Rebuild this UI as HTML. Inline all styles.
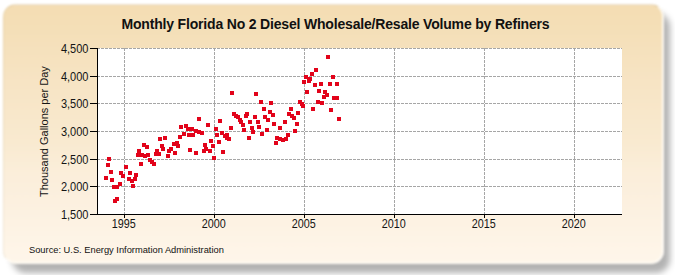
<!DOCTYPE html>
<html><head><meta charset="utf-8"><style>
html,body{margin:0;padding:0;width:675px;height:275px;overflow:hidden;background:#fff;}
#sh{position:absolute;left:12px;top:13px;width:658px;height:260px;border-radius:14px;background:rgba(0,0,0,0.30);filter:blur(3px);}
#bg{position:absolute;left:3px;top:4px;width:661px;height:260px;border-radius:13px;box-sizing:border-box;border:2px solid rgba(255,253,249,0.9);border-left:1px solid rgba(140,125,90,0.12);border-top:1px solid rgba(140,125,90,0.18);
background:linear-gradient(to bottom,#F4DDB3 0%,#F4DEB5 5%,#F7E4C4 30%,#F9EAD0 53%,#FBEEDA 65%,#FCF0DF 76%,#FEF5E8 95%,#FEF6EA 100%);
filter:blur(1.1px);}
svg{position:absolute;left:0;top:0;}
.g{stroke:#a6a6a6;stroke-width:1;stroke-dasharray:3 1;shape-rendering:crispEdges;}
.a{stroke:#000;stroke-width:1;shape-rendering:crispEdges;}
.p{fill:#E2031A;shape-rendering:crispEdges;}
text{font-family:"Liberation Sans",sans-serif;fill:#141414;}
.yl{font-size:12px;text-anchor:end;}
.xl{font-size:12px;text-anchor:middle;}
.t{font-size:14px;letter-spacing:-0.18px;font-weight:bold;text-anchor:middle;fill:#111;}
.yt{font-size:11px;text-anchor:middle;}
.src{font-size:9.3px;fill:#111;}
</style></head><body>
<div id="sh"></div><div id="bg"></div>
<svg width="675" height="275" viewBox="0 0 675 275">

<text x="335.5" y="29" class="t">Monthly Florida No 2 Diesel Wholesale/Resale Volume by Refiners</text>
<text transform="translate(48,131.6) rotate(-90)" class="yt">Thousand Gallons per Day</text>
<text x="29" y="253" class="src">Source: U.S. Energy Information Administration</text>
<rect x="97" y="48" width="525" height="166" fill="#FFFFFF"/>
<line x1="97" y1="48.5" x2="622" y2="48.5" class="g"/>
<line x1="97" y1="76.5" x2="622" y2="76.5" class="g"/>
<line x1="97" y1="103.5" x2="622" y2="103.5" class="g"/>
<line x1="97" y1="131.5" x2="622" y2="131.5" class="g"/>
<line x1="97" y1="159.5" x2="622" y2="159.5" class="g"/>
<line x1="97" y1="186.5" x2="622" y2="186.5" class="g"/>
<line x1="124.5" y1="48" x2="124.5" y2="214" class="g"/>
<line x1="214.5" y1="48" x2="214.5" y2="214" class="g"/>
<line x1="304.5" y1="48" x2="304.5" y2="214" class="g"/>
<line x1="394.5" y1="48" x2="394.5" y2="214" class="g"/>
<line x1="484.5" y1="48" x2="484.5" y2="214" class="g"/>
<line x1="574.5" y1="48" x2="574.5" y2="214" class="g"/>
<rect x="104" y="176" width="4" height="4" class="p"/>
<rect x="110" y="178" width="4" height="4" class="p"/>
<rect x="112" y="185" width="4" height="4" class="p"/>
<rect x="115" y="185" width="4" height="4" class="p"/>
<rect x="118" y="182" width="4" height="4" class="p"/>
<rect x="113" y="199" width="4" height="4" class="p"/>
<rect x="115" y="197" width="4" height="4" class="p"/>
<rect x="109" y="170" width="4" height="4" class="p"/>
<rect x="119" y="171" width="4" height="4" class="p"/>
<rect x="121" y="174" width="4" height="4" class="p"/>
<rect x="124" y="165" width="4" height="4" class="p"/>
<rect x="128" y="171" width="4" height="4" class="p"/>
<rect x="127" y="177" width="4" height="4" class="p"/>
<rect x="130" y="179" width="4" height="4" class="p"/>
<rect x="133" y="177" width="4" height="4" class="p"/>
<rect x="134" y="173" width="4" height="4" class="p"/>
<rect x="131" y="184" width="4" height="4" class="p"/>
<rect x="107" y="157" width="4" height="4" class="p"/>
<rect x="106" y="163" width="4" height="4" class="p"/>
<rect x="139" y="162" width="4" height="4" class="p"/>
<rect x="137" y="149" width="4" height="4" class="p"/>
<rect x="136" y="153" width="4" height="4" class="p"/>
<rect x="140" y="153" width="4" height="4" class="p"/>
<rect x="143" y="154" width="4" height="4" class="p"/>
<rect x="146" y="153" width="4" height="4" class="p"/>
<rect x="142" y="143" width="4" height="4" class="p"/>
<rect x="145" y="145" width="4" height="4" class="p"/>
<rect x="148" y="158" width="4" height="4" class="p"/>
<rect x="150" y="160" width="4" height="4" class="p"/>
<rect x="152" y="162" width="4" height="4" class="p"/>
<rect x="155" y="149" width="4" height="4" class="p"/>
<rect x="154" y="152" width="4" height="4" class="p"/>
<rect x="157" y="152" width="4" height="4" class="p"/>
<rect x="160" y="144" width="4" height="4" class="p"/>
<rect x="161" y="147" width="4" height="4" class="p"/>
<rect x="166" y="154" width="4" height="4" class="p"/>
<rect x="167" y="149" width="4" height="4" class="p"/>
<rect x="169" y="147" width="4" height="4" class="p"/>
<rect x="173" y="151" width="4" height="4" class="p"/>
<rect x="172" y="142" width="4" height="4" class="p"/>
<rect x="175" y="141" width="4" height="4" class="p"/>
<rect x="176" y="144" width="4" height="4" class="p"/>
<rect x="178" y="135" width="4" height="4" class="p"/>
<rect x="182" y="132" width="4" height="4" class="p"/>
<rect x="187" y="133" width="4" height="4" class="p"/>
<rect x="191" y="133" width="4" height="4" class="p"/>
<rect x="188" y="148" width="4" height="4" class="p"/>
<rect x="194" y="151" width="4" height="4" class="p"/>
<rect x="158" y="137" width="4" height="4" class="p"/>
<rect x="163" y="136" width="4" height="4" class="p"/>
<rect x="179" y="125" width="4" height="4" class="p"/>
<rect x="184" y="124" width="4" height="4" class="p"/>
<rect x="186" y="127" width="4" height="4" class="p"/>
<rect x="190" y="127" width="4" height="4" class="p"/>
<rect x="194" y="129" width="4" height="4" class="p"/>
<rect x="197" y="130" width="4" height="4" class="p"/>
<rect x="200" y="131" width="4" height="4" class="p"/>
<rect x="197" y="117" width="4" height="4" class="p"/>
<rect x="206" y="123" width="4" height="4" class="p"/>
<rect x="202" y="149" width="4" height="4" class="p"/>
<rect x="204" y="147" width="4" height="4" class="p"/>
<rect x="208" y="149" width="4" height="4" class="p"/>
<rect x="203" y="143" width="4" height="4" class="p"/>
<rect x="211" y="144" width="4" height="4" class="p"/>
<rect x="221" y="150" width="4" height="4" class="p"/>
<rect x="212" y="156" width="4" height="4" class="p"/>
<rect x="214" y="127" width="4" height="4" class="p"/>
<rect x="215" y="133" width="4" height="4" class="p"/>
<rect x="220" y="131" width="4" height="4" class="p"/>
<rect x="223" y="134" width="4" height="4" class="p"/>
<rect x="225" y="133" width="4" height="4" class="p"/>
<rect x="225" y="136" width="4" height="4" class="p"/>
<rect x="227" y="137" width="4" height="4" class="p"/>
<rect x="218" y="119" width="4" height="4" class="p"/>
<rect x="229" y="126" width="4" height="4" class="p"/>
<rect x="209" y="139" width="4" height="4" class="p"/>
<rect x="217" y="140" width="4" height="4" class="p"/>
<rect x="232" y="112" width="4" height="4" class="p"/>
<rect x="234" y="114" width="4" height="4" class="p"/>
<rect x="236" y="115" width="4" height="4" class="p"/>
<rect x="238" y="118" width="4" height="4" class="p"/>
<rect x="239" y="120" width="4" height="4" class="p"/>
<rect x="241" y="123" width="4" height="4" class="p"/>
<rect x="242" y="128" width="4" height="4" class="p"/>
<rect x="245" y="112" width="4" height="4" class="p"/>
<rect x="244" y="114" width="4" height="4" class="p"/>
<rect x="248" y="120" width="4" height="4" class="p"/>
<rect x="253" y="115" width="4" height="4" class="p"/>
<rect x="256" y="120" width="4" height="4" class="p"/>
<rect x="257" y="125" width="4" height="4" class="p"/>
<rect x="250" y="126" width="4" height="4" class="p"/>
<rect x="251" y="130" width="4" height="4" class="p"/>
<rect x="247" y="136" width="4" height="4" class="p"/>
<rect x="230" y="91" width="4" height="4" class="p"/>
<rect x="254" y="92" width="4" height="4" class="p"/>
<rect x="259" y="100" width="4" height="4" class="p"/>
<rect x="269" y="101" width="4" height="4" class="p"/>
<rect x="262" y="107" width="4" height="4" class="p"/>
<rect x="268" y="110" width="4" height="4" class="p"/>
<rect x="271" y="113" width="4" height="4" class="p"/>
<rect x="263" y="115" width="4" height="4" class="p"/>
<rect x="266" y="118" width="4" height="4" class="p"/>
<rect x="289" y="107" width="4" height="4" class="p"/>
<rect x="287" y="112" width="4" height="4" class="p"/>
<rect x="290" y="114" width="4" height="4" class="p"/>
<rect x="292" y="116" width="4" height="4" class="p"/>
<rect x="296" y="111" width="4" height="4" class="p"/>
<rect x="298" y="100" width="4" height="4" class="p"/>
<rect x="300" y="102" width="4" height="4" class="p"/>
<rect x="301" y="104" width="4" height="4" class="p"/>
<rect x="311" y="107" width="4" height="4" class="p"/>
<rect x="272" y="122" width="4" height="4" class="p"/>
<rect x="265" y="128" width="4" height="4" class="p"/>
<rect x="260" y="132" width="4" height="4" class="p"/>
<rect x="278" y="126" width="4" height="4" class="p"/>
<rect x="283" y="120" width="4" height="4" class="p"/>
<rect x="295" y="122" width="4" height="4" class="p"/>
<rect x="293" y="129" width="4" height="4" class="p"/>
<rect x="286" y="133" width="4" height="4" class="p"/>
<rect x="275" y="136" width="4" height="4" class="p"/>
<rect x="278" y="137" width="4" height="4" class="p"/>
<rect x="281" y="138" width="4" height="4" class="p"/>
<rect x="284" y="137" width="4" height="4" class="p"/>
<rect x="274" y="141" width="4" height="4" class="p"/>
<rect x="337" y="117" width="4" height="4" class="p"/>
<rect x="314" y="68" width="4" height="4" class="p"/>
<rect x="310" y="72" width="4" height="4" class="p"/>
<rect x="304" y="75" width="4" height="4" class="p"/>
<rect x="308" y="77" width="4" height="4" class="p"/>
<rect x="307" y="79" width="4" height="4" class="p"/>
<rect x="302" y="80" width="4" height="4" class="p"/>
<rect x="313" y="83" width="4" height="4" class="p"/>
<rect x="319" y="82" width="4" height="4" class="p"/>
<rect x="328" y="82" width="4" height="4" class="p"/>
<rect x="335" y="82" width="4" height="4" class="p"/>
<rect x="331" y="75" width="4" height="4" class="p"/>
<rect x="326" y="55" width="4" height="4" class="p"/>
<rect x="305" y="90" width="4" height="4" class="p"/>
<rect x="317" y="89" width="4" height="4" class="p"/>
<rect x="323" y="90" width="4" height="4" class="p"/>
<rect x="325" y="93" width="4" height="4" class="p"/>
<rect x="322" y="95" width="4" height="4" class="p"/>
<rect x="332" y="96" width="4" height="4" class="p"/>
<rect x="335" y="96" width="4" height="4" class="p"/>
<rect x="316" y="100" width="4" height="4" class="p"/>
<rect x="320" y="101" width="4" height="4" class="p"/>
<rect x="329" y="108" width="4" height="4" class="p"/>
<line x1="97.5" y1="48" x2="97.5" y2="215" class="a"/>
<line x1="97" y1="214.5" x2="622" y2="214.5" class="a"/>
<line x1="90" y1="48.5" x2="97" y2="48.5" class="a"/>
<line x1="90" y1="76.5" x2="97" y2="76.5" class="a"/>
<line x1="90" y1="103.5" x2="97" y2="103.5" class="a"/>
<line x1="90" y1="131.5" x2="97" y2="131.5" class="a"/>
<line x1="90" y1="159.5" x2="97" y2="159.5" class="a"/>
<line x1="90" y1="186.5" x2="97" y2="186.5" class="a"/>
<line x1="90" y1="214.5" x2="97" y2="214.5" class="a"/>
<line x1="124.5" y1="215" x2="124.5" y2="218" class="a"/>
<line x1="214.5" y1="215" x2="214.5" y2="218" class="a"/>
<line x1="304.5" y1="215" x2="304.5" y2="218" class="a"/>
<line x1="394.5" y1="215" x2="394.5" y2="218" class="a"/>
<line x1="484.5" y1="215" x2="484.5" y2="218" class="a"/>
<line x1="574.5" y1="215" x2="574.5" y2="218" class="a"/>
<text transform="translate(88.5,52.8) scale(0.92,1)" class="yl">4,500</text>
<text transform="translate(88.5,80.8) scale(0.92,1)" class="yl">4,000</text>
<text transform="translate(88.5,107.8) scale(0.92,1)" class="yl">3,500</text>
<text transform="translate(88.5,135.8) scale(0.92,1)" class="yl">3,000</text>
<text transform="translate(88.5,163.8) scale(0.92,1)" class="yl">2,500</text>
<text transform="translate(88.5,190.8) scale(0.92,1)" class="yl">2,000</text>
<text transform="translate(88.5,218.8) scale(0.92,1)" class="yl">1,500</text>
<text transform="translate(123.7,228) scale(0.9,1)" class="xl">1995</text>
<text transform="translate(213.7,228) scale(0.9,1)" class="xl">2000</text>
<text transform="translate(303.7,228) scale(0.9,1)" class="xl">2005</text>
<text transform="translate(393.7,228) scale(0.9,1)" class="xl">2010</text>
<text transform="translate(483.7,228) scale(0.9,1)" class="xl">2015</text>
<text transform="translate(573.7,228) scale(0.9,1)" class="xl">2020</text>
</svg>
</body></html>
